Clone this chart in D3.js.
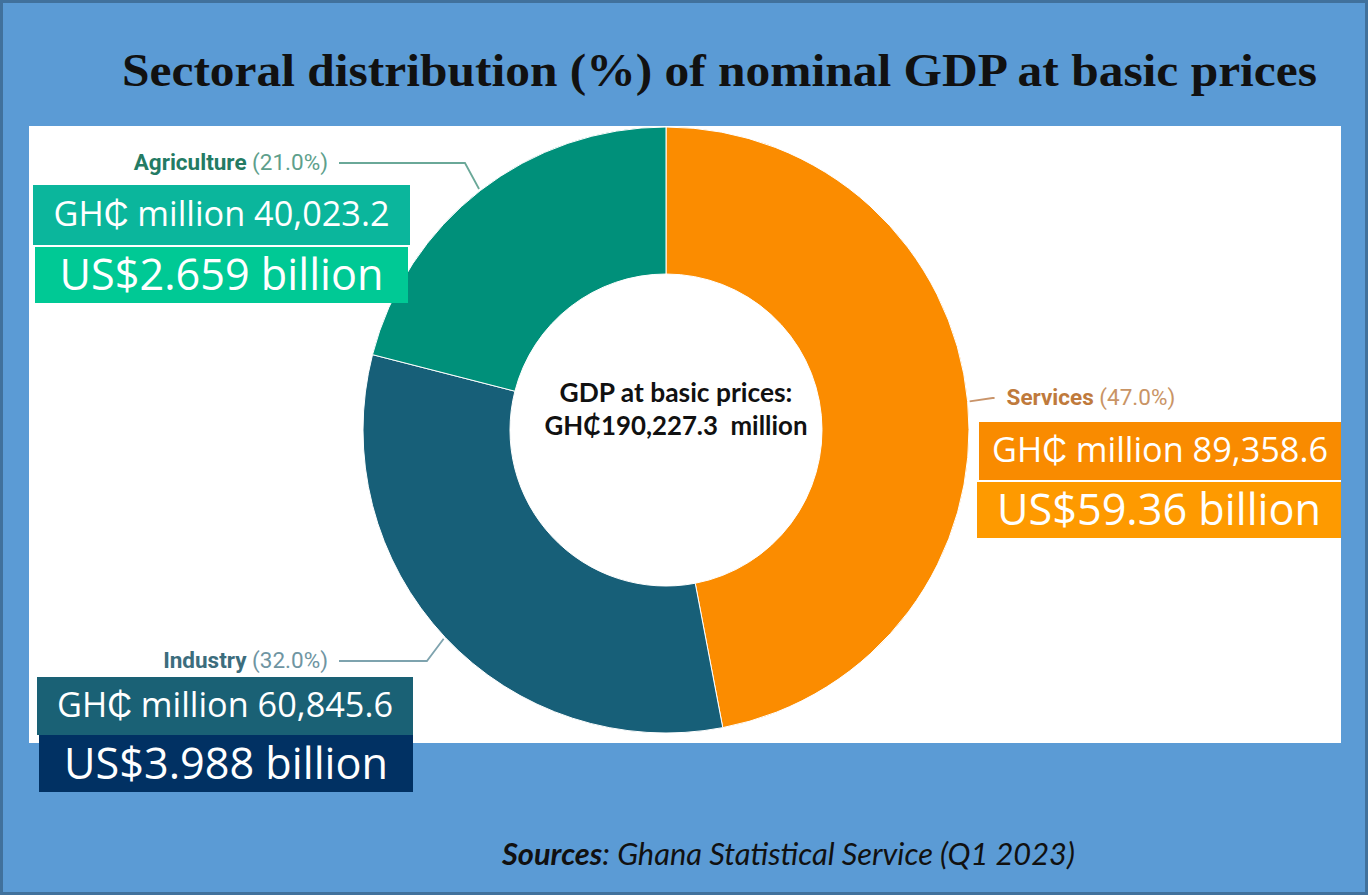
<!DOCTYPE html>
<html>
<head>
<meta charset="utf-8">
<script src="https://cdn.jsdelivr.net/npm/d3@7/dist/d3.min.js"></script>
<style>
  html, body { margin: 0; padding: 0; background: #5b9bd5; }
  svg { display: block; }
</style>
</head>
<body>
<svg id="chart" width="1368" height="895"></svg>
<script>
// ---------------- DATA ----------------
const sectors = ["Services", "Industry", "Agriculture"];
const shares = [47.0, 32.0, 21.0];                 // % of nominal GDP at basic prices
const ghcMillions = [89358.6, 60845.6, 40023.2];   // GH₵ million
const usdBillions = ["59.36", "3.988", "2.659"];   // US$ billion (as printed)
const totalGhcMillions = 190227.3;
const titleText = "Sectoral distribution (%) of nominal GDP at basic prices";
const sourceLabel = "Sources";
const sourceText = ": Ghana Statistical Service (Q1 2023)";

// ---------------- STYLE / LAYOUT ----------------
const sliceColors = ["#fb8c00", "#175f78", "#00907a"];
const nameColors = ["#bf7a3c", "#3c6d7d", "#247b64"];
const pctColors = ["#c99465", "#6f95a2", "#5e9f8c"];
const lineColors = ["#c9946a", "#7ea3ae", "#6aa898"];
const ghcBoxColors = ["#f98b00", "#1a6175", "#0bb69c"];
const usdBoxColors = ["#fe9a00", "#013163", "#00c995"];

// label placement per sector (layout only)
const layout = [
  { side: "right", labelY: 405, box1: [979, 422, 362, 58], box2: [977, 482, 364, 56] },
  { side: "left",  labelY: 668, box1: [37, 677, 376, 58],  box2: [39, 735, 374, 57] },
  { side: "left",  labelY: 170, box1: [33, 185, 377, 60],  box2: [35, 247, 373, 56] }
];

const W = 1368, H = 895;
const cx = 666, cy = 430, rOuter = 303, rInner = 156;

const svg = d3.select("#chart");

// background + border
svg.append("rect").attr("x", 1.5).attr("y", 1.5).attr("width", W - 3).attr("height", H - 3)
  .attr("fill", "#5b9bd5").attr("stroke", "#41719c").attr("stroke-width", 3);

// white chart panel
svg.append("rect").attr("x", 29).attr("y", 126).attr("width", 1312).attr("height", 617).attr("fill", "#ffffff");

// title
const title = svg.append("text")
  .attr("x", 122).attr("y", 86)
  .attr("font-family", "'Liberation Serif', serif")
  .attr("font-weight", "bold")
  .attr("font-size", 46)
  .attr("fill", "#111")
  .text(titleText);
title.attr("textLength", 1195).attr("lengthAdjust", "spacingAndGlyphs");

// ---------------- DONUT ----------------
const data = sectors.map((s, i) => ({ name: s, share: shares[i], ghc: ghcMillions[i], usd: usdBillions[i], i }));
const pie = d3.pie().sort(null).value(d => d.share).startAngle(0).endAngle(2 * Math.PI);
const arcs = pie(data);
const arc = d3.arc().innerRadius(rInner).outerRadius(rOuter);

const g = svg.append("g").attr("transform", `translate(${cx},${cy})`);
g.selectAll("path.slice").data(arcs).join("path")
  .attr("class", "slice")
  .attr("d", arc)
  .attr("fill", d => sliceColors[d.data.i])
  .attr("stroke", "#ffffff").attr("stroke-width", 1);

// leader lines + labels
const pt = (a, r) => [cx + r * Math.sin(a), cy - r * Math.cos(a)];
arcs.forEach(d => {
  const L = layout[d.data.i];
  const mid = (d.startAngle + d.endAngle) / 2;
  const p0 = pt(mid, rOuter + 2);
  const p1 = pt(mid, rOuter + 25);
  const textX = L.side === "right" ? p1[0] + 14 : 328;
  const lineEnd = L.side === "right" ? textX - 12 : textX + 11;
  const lineY = L.labelY - 7;
  svg.append("path")
    .attr("d", d3.line()([p0, [p1[0], lineY], [lineEnd, lineY]]))
    .attr("fill", "none").attr("stroke", lineColors[d.data.i]).attr("stroke-width", 1.8);

  const t = svg.append("text")
    .attr("x", textX).attr("y", L.labelY)
    .attr("text-anchor", L.side === "right" ? "start" : "end")
    .attr("font-family", "Roboto, sans-serif")
    .attr("font-size", 22.5);
  t.append("tspan").attr("font-weight", "bold").attr("fill", nameColors[d.data.i]).text(d.data.name);
  t.append("tspan").attr("fill", pctColors[d.data.i]).text(" (" + d3.format(".1f")(d.data.share) + "%)");
});

// value boxes
function fitText(sel, targetW) {
  const w = sel.node().getComputedTextLength();
  const fs = parseFloat(sel.attr("font-size"));
  sel.attr("font-size", fs * targetW / w);
}
const fmtGhc = d3.format(",.1f");
data.forEach(d => {
  const L = layout[d.i];
  const [x1, y1, w1, h1] = L.box1;
  const [x2, y2, w2, h2] = L.box2;
  svg.append("rect").attr("x", x1).attr("y", y1).attr("width", w1).attr("height", h1).attr("fill", ghcBoxColors[d.i]);
  svg.append("rect").attr("x", x2).attr("y", y2).attr("width", w2).attr("height", h2).attr("fill", usdBoxColors[d.i]);
  const t1 = svg.append("text").attr("x", x1 + w1 / 2).attr("y", y1 + h1 / 2 + 11)
    .attr("text-anchor", "middle").attr("font-family", "'Open Sans', sans-serif")
    .attr("font-size", 30).attr("fill", "#ffffff")
    .text("GH₵ million " + fmtGhc(d.ghc));
  fitText(t1, 336);
  const t2 = svg.append("text").attr("x", x2 + w2 / 2).attr("y", y2 + h2 / 2 + 15)
    .attr("text-anchor", "middle").attr("font-family", "'Open Sans', sans-serif")
    .attr("font-size", 40).attr("fill", "#ffffff")
    .text("US$" + d.usd + " billion");
  fitText(t2, 324);
});

// center text
const c1 = svg.append("text").attr("x", 676).attr("y", 402).attr("text-anchor", "middle")
  .attr("font-family", "Lato, 'Open Sans', sans-serif").attr("font-weight", "bold")
  .attr("font-size", 22).attr("fill", "#111").text("GDP at basic prices:");
fitText(c1, 233);
const c2 = svg.append("text").attr("x", 676).attr("y", 435).attr("text-anchor", "middle")
  .attr("font-family", "Lato, 'Open Sans', sans-serif").attr("font-weight", "bold")
  .attr("font-size", 22).attr("fill", "#111")
  .text("GH₵" + fmtGhc(totalGhcMillions) + "\u00a0\u00a0million");
fitText(c2, 263);

// source
const s = svg.append("text").attr("x", 502).attr("y", 865)
  .attr("font-family", "Lato, 'Open Sans', sans-serif").attr("font-style", "italic")
  .attr("font-size", 26).attr("fill", "#111");
s.append("tspan").attr("font-weight", "bold").text(sourceLabel);
s.append("tspan").text(sourceText);
fitText(s, 573);
</script>
</body>
</html>
